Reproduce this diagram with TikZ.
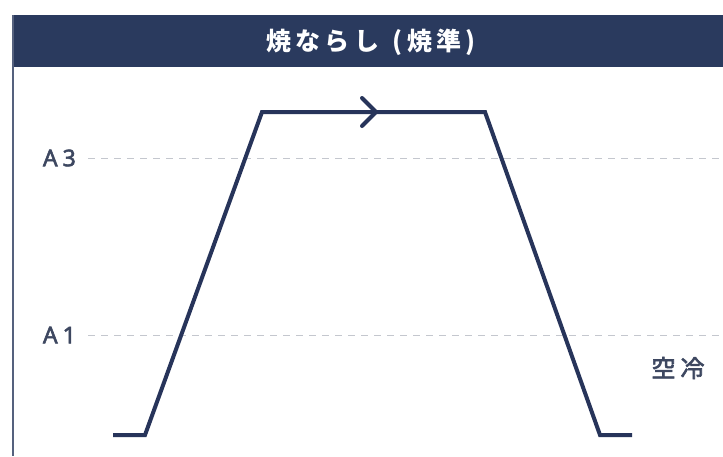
\documentclass[tikz,border=0pt]{standalone}
\usepackage{fontspec}
\setmainfont{Noto Sans}
\newfontfamily\cjk{Noto Sans CJK JP}
\newfontfamily\cjkm{Noto Sans CJK JP}[BoldFont={Noto Sans CJK JP},BoldFeatures={FakeBold=2.5}]
\newfontfamily\latm{Noto Sans}[BoldFont={Noto Sans},BoldFeatures={FakeBold=2.5}]
\definecolor{navy}{HTML}{2A3A5E}
\definecolor{curvecol}{HTML}{27345A}
\definecolor{labcol}{HTML}{3D4760}
\definecolor{dashcol}{HTML}{C4C7CE}
\begin{document}
\begin{tikzpicture}[x=1pt,y=-1pt,
  curve/.style={draw=curvecol,line width=4pt,line join=miter},
  guide/.style={draw=dashcol,line width=1pt,dash pattern=on 7pt off 6pt},
  lab/.style={text=labcol,font=\latm\bfseries\fontsize{23}{23}\selectfont,inner sep=0pt},
  cjklab/.style={text=labcol,font=\cjkm\bfseries\fontsize{24}{24}\selectfont,inner sep=0pt}]
\useasboundingbox (0,0) rectangle (723,456);
\fill[white] (0,0) rectangle (723,456);
% frame
\fill[navy] (13,15) rectangle (723,67);
\draw[navy!80,line width=1.5pt] (13,15) -- (13,456);
\node[text=white,font=\cjk\bfseries\fontsize{25}{25}\selectfont,inner sep=0pt] (title) at (371,42) {焼\,な\,ら\,し\;\;(\,焼\,準\,)};
% guides
\coordinate (g3a) at (88,158); \coordinate (g3b) at (723,158);
\coordinate (g1a) at (88,335); \coordinate (g1b) at (723,335);
\draw[guide] (g3a) -- (g3b);
\draw[guide] (g1a) -- (g1b);
\node[lab,anchor=east] (a3) at (76,158) {A\hspace{5pt}3};
\node[lab,anchor=east] (a1) at (76,335) {A\hspace{5pt}1};
\node[cjklab] (ac) at (678,368) {空\hspace{5pt}冷};
% curve
\coordinate (p0) at (113,435);
\coordinate (p1) at (145,435);
\coordinate (p2) at (262,112);
\coordinate (p3) at (485,112);
\coordinate (p4) at (600,435);
\coordinate (p5) at (632,435);
\draw[curve] (p0) -- (p1) -- (p2) -- (p3) -- (p4) -- (p5);
\coordinate (ch) at (376,112);
\draw[curve,line cap=round] ([shift={(-14,-14)}]ch) -- (ch) -- ([shift={(-14,14)}]ch);
\end{tikzpicture}
\end{document}
